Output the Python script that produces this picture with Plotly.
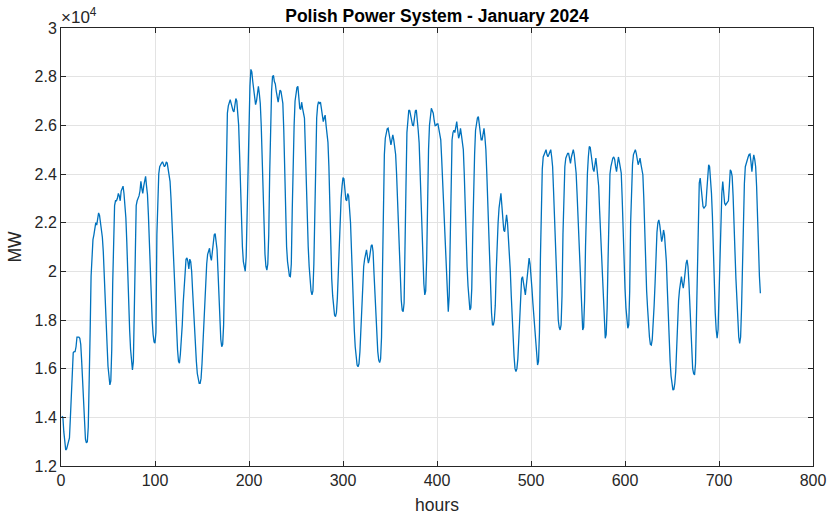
import plotly.graph_objects as go

# Hourly load, MW (Jan 2024), one list per day (24 h each)
d01 = [14050,14000,13400,12800,12660,12700,12900,13000,13150,14000,15200,16300,16650,16700,16700,16900,17300,17300,17300,17250,17000,16300,15400,14400]
d02 = [13600,13100,12950,13000,13600,15000,17500,19800,20900,21300,21500,21700,22000,21900,22200,22400,22300,22000,21800,21400,20800,20000,19000,18100]
d03 = [17000,16100,15500,15330,15500,16800,19500,22000,22700,22900,22900,23000,23200,23100,22900,23300,23400,23500,23200,22700,22200,21200,19800,18600]
d04 = [17600,16800,16200,15950,16300,18000,21000,22700,22900,23000,23100,23300,23700,23400,23200,23500,23700,23900,23500,23150,22300,21000,19800,18800]
d05 = [18000,17400,17100,17050,17500,21500,23300,24000,24300,24400,24450,24500,24400,24300,24350,24500,24450,24200,24000,23700,23000,22000,21000,20000]
d06 = [19000,18000,17200,16770,16300,16230,16600,17100,17800,18700,19500,20200,20500,20550,20400,20100,20500,20400,20000,19200,18300,17600,16900,16300]
d07 = [15800,15500,15400,15400,15600,16200,17000,18000,19000,19800,20300,20700,20900,20950,20600,20450,20800,21200,21500,21550,21300,20900,20000,18800]
d08 = [17800,17200,16900,17000,17800,20000,23500,25500,26500,26800,27000,27050,26900,26700,26600,26550,26900,27100,27000,26500,26000,24800,23400,21800]
d09 = [21000,20400,20100,20000,20600,22500,25000,26400,27600,28300,28200,27800,27500,27200,26850,27000,27400,27600,27300,26900,26000,24700,23000,21500]
d10 = [20700,20200,20050,20300,21500,24000,26400,27400,28000,28050,27800,27700,27400,27100,26950,27200,27450,27400,27100,26900,25800,23800,22300,21000]
d11 = [20400,20000,19800,19780,20300,22500,25000,26000,27000,27450,27550,27600,27200,26700,26650,26950,26700,26500,26300,25000,23400,22000,21000,20200]
d12 = [19600,19200,19030,19200,20300,22800,25000,26300,26800,26970,26900,26950,26700,26400,26150,26300,26420,26000,25600,25300,24300,22500,20800,19700]
d13 = [19000,18500,18200,18140,18300,18900,20000,21300,22300,23000,23500,23850,23800,23400,22950,22900,23200,23100,22600,22000,20900,19600,18600,17600]
d14 = [16900,16400,16150,16080,16200,16700,17600,18800,19700,20200,20500,20800,20880,20600,20340,20500,20800,21050,21090,20800,19900,19000,18140,17300]
d15 = [16700,16350,16250,16400,17300,20000,23600,24800,25470,25700,25850,25880,25700,25400,25200,25400,25610,25400,25000,24800,24000,22800,21500,20300]
d16 = [19400,18800,18400,18340,18700,20500,23500,25700,26300,26630,26600,26400,26300,26000,25990,26300,26600,26630,26300,25800,25280,24000,22500,21300]
d17 = [20200,19500,19030,19200,20500,23000,25000,26000,26500,26700,26600,26500,26200,25990,26000,26060,26060,25800,25600,25400,24600,23600,22800,22000]
d18 = [21000,19800,18900,18340,19000,21500,24000,25400,25700,25800,25700,26000,26150,25800,25470,25600,25880,25600,25300,25000,24000,22500,21200,20200]
d19 = [19400,18800,18410,18500,19300,21500,23800,24800,25800,26150,26300,26360,26100,25700,25400,25400,25600,25880,25500,25000,24000,22800,21600,20400]
d20 = [19200,18300,17800,17800,18000,18600,20000,21300,22000,22600,23100,23210,22700,22200,21700,21630,21900,22320,22000,21400,20600,20000,19000,18000]
d21 = [17200,16500,16000,15880,16000,16400,17200,18300,19200,19700,19780,19500,19200,19030,19400,19900,20200,20540,20300,19900,19300,18700,18140,17500]
d22 = [16900,16400,16150,16300,17500,20500,23000,24200,24700,24800,24900,25000,24800,24710,24800,24900,25000,24700,24300,23300,22250,20800,19500,18600]
d23 = [18000,17700,17590,17800,19000,21500,23630,24300,24650,24800,24850,24850,24600,24440,24700,24900,25000,24800,24400,24040,23200,22300,21200,20000]
d24 = [18900,18000,17590,17700,18800,21000,22800,24000,24700,25130,25100,24800,24400,24200,24100,24400,24650,24300,23900,23500,22500,21500,20500,19500]
d25 = [18500,17700,17250,17400,18500,20500,23000,24000,24300,24580,24650,24700,24600,24300,24100,24400,24700,24500,24200,24040,23000,21500,20300,19300]
d26 = [18500,17900,17660,17800,19200,22000,23900,24400,24800,24900,25000,24850,24600,24380,24500,24650,24400,24100,23970,23000,21570,20300,19200,18500]
d27 = [17800,17300,17000,16970,17200,17800,18600,19520,20800,21600,22000,22110,21900,21500,21220,21400,21700,21500,21000,20400,19300,18140,17200,16300]
d28 = [15700,15300,15120,15150,15400,15900,16900,18140,18800,19240,19600,19780,19500,19310,19600,20000,20330,20470,20200,19520,18500,17300,16400,16000]
d29 = [15800,15740,16200,17800,20000,22200,23630,23830,23500,23000,22660,22600,22660,22700,23300,24100,24380,24300,23900,23200,22250,20800,19200,18300]
d30 = [17600,17250,17600,19000,20800,22250,23200,23690,23100,22800,22730,22800,22870,22900,23500,24170,24100,23900,23100,22250,20800,19700,18820,17900]
d31 = [17300,17040,17300,18500,20500,22250,23600,24300,24440,24650,24700,24800,24820,24500,24100,24500,24790,24600,24300,23500,22000,20800,19800,19100]

days = [d01,d02,d03,d04,d05,d06,d07,d08,d09,d10,d11,d12,d13,d14,d15,d16,
        d17,d18,d19,d20,d21,d22,d23,d24,d25,d26,d27,d28,d29,d30,d31]
load_mw = [v for d in days for v in d]
hours = list(range(1, len(load_mw) + 1))

x_ticks = [0, 100, 200, 300, 400, 500, 600, 700, 800]
y_ticks = [12000, 14000, 16000, 18000, 20000, 22000, 24000, 26000, 28000, 30000]
y_ticktext = ["1.2", "1.4", "1.6", "1.8", "2", "2.2", "2.4", "2.6", "2.8", "3"]

FONT = "Liberation Sans, Arial, sans-serif"
AX = "#262626"
GRID = "#e3e3e3"

fig = go.Figure()
fig.add_trace(go.Scatter(x=hours, y=load_mw, mode="lines",
                         line=dict(color="#0072BD", width=1.3),
                         showlegend=False))

axis_common = dict(showline=True, linecolor=AX, linewidth=1, mirror="ticks",
                   ticks="inside", ticklen=5, tickcolor=AX, tickwidth=1,
                   showgrid=True, gridcolor=GRID, gridwidth=1, zeroline=False,
                   automargin=False,
                   tickfont=dict(family=FONT, size=16, color=AX))

fig.update_xaxes(range=[0, 800], tickvals=x_ticks,
                 title=dict(text="hours", font=dict(family=FONT, size=17.5, color=AX), standoff=10),
                 **axis_common)
fig.update_yaxes(range=[12000, 30000], tickvals=y_ticks, ticktext=y_ticktext,
                 title=dict(text="MW", font=dict(family=FONT, size=17.5, color=AX), standoff=8),
                 **axis_common)

fig.update_layout(
    width=830, height=515,
    margin=dict(l=61, r=17, t=28, b=49),
    paper_bgcolor="white", plot_bgcolor="white",
    title=dict(text="<b>Polish Power System - January 2024</b>",
               font=dict(family=FONT, size=17.5, color="#000000"),
               x=0.5, xref="paper", xanchor="center", y=0.957, yanchor="bottom"),
    annotations=[dict(text="×10<sup>4</sup>", xref="paper", yref="paper",
                      x=0, y=1, xanchor="left", yanchor="bottom", xshift=-2, yshift=-1,
                      showarrow=False, font=dict(family=FONT, size=17, color=AX))],
)

fig.write_html("out.html", config={"displayModeBar": False},
               post_script="document.body.style.margin='0';")
